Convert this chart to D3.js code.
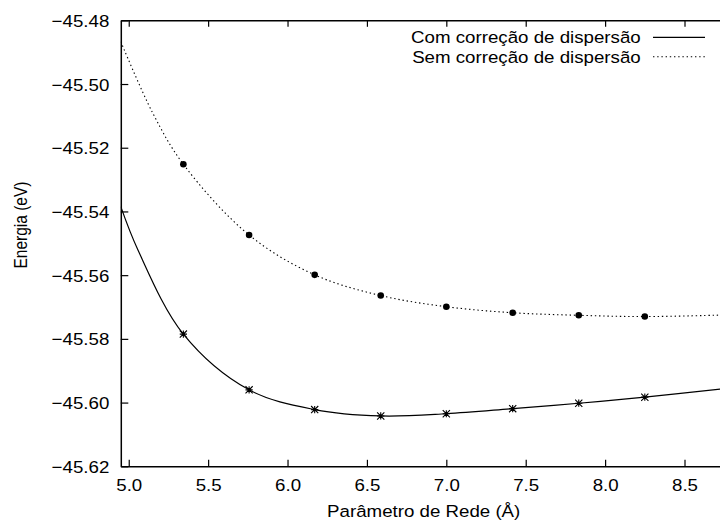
<!DOCTYPE html>
<html><head><meta charset="utf-8">
<script src="https://cdn.jsdelivr.net/npm/d3@7"></script>
<style>body{margin:0;background:#fff}svg{display:block}text{font-family:"Liberation Sans",Arial,Helvetica,sans-serif;fill:#000}</style>
</head><body><svg id="c" width="720" height="521"></svg>
<script>
// Data
const latticeParams = [5.344, 5.758, 6.171, 6.587, 7.0, 7.418, 7.834, 8.25];
const energyWith = [-45.5785, -45.5960, -45.6022, -45.6042, -45.6035, -45.6019, -45.6002, -45.5983];
const energyWithout = [-45.5252, -45.5474, -45.5599, -45.5664, -45.5699, -45.5718, -45.5726, -45.5730];
// fitted curves
const fitWithX = [4.95, 5.058, 5.344, 5.758, 6.171, 6.587, 7.0, 7.418, 7.834, 8.25, 8.75];
const fitWithY = [-45.5385, -45.5521, -45.5785, -45.5960, -45.6022, -45.6042, -45.6035, -45.6019, -45.6002, -45.5983, -45.5956];
const fitWithoutX = [4.95, 5.15, 5.344, 5.758, 6.171, 6.587, 7.0, 7.418, 7.834, 8.25, 8.75];
const fitWithoutY = [-45.4867, -45.5090, -45.5252, -45.5474, -45.5599, -45.5664, -45.5699, -45.5718, -45.5726, -45.5730, -45.5725];
const xTicks = [5.0, 5.5, 6.0, 6.5, 7.0, 7.5, 8.0, 8.5];
const yTicks = [-45.48, -45.50, -45.52, -45.54, -45.56, -45.58, -45.60, -45.62];
const legendLabels = ["Com correção de dispersão", "Sem correção de dispersão"];

const svg = d3.select("#c");
const L = 120.8, R = 724.2, T = 20.3, B = 466.3;
const x = d3.scaleLinear().domain([4.95, 8.75]).range([L, R]);
const y = d3.scaleLinear().domain([-45.62, -45.48]).range([B, T]);
const FS = 17, SX = 1.1;
const fmtY = v => d3.format(".2f")(v).replace("-", "\u2212");

svg.append("defs").append("clipPath").attr("id","clip").append("rect")
  .attr("x", L).attr("y", T).attr("width", R - L).attr("height", B - T);

// axes
const gx = svg.append("g").attr("transform", `translate(0,${B})`)
  .call(d3.axisBottom(x).tickValues(xTicks).tickSizeInner(-6.5).tickSizeOuter(0).tickFormat(d3.format(".1f")));
const gxt = svg.append("g").attr("transform", `translate(0,${T})`)
  .call(d3.axisTop(x).tickValues(xTicks).tickSizeInner(-6.5).tickSizeOuter(0).tickFormat(""));
const gy = svg.append("g").attr("transform", `translate(${L},0)`)
  .call(d3.axisLeft(y).tickValues(yTicks).tickSizeInner(-7.5).tickSizeOuter(0).tickFormat(fmtY));
[gx, gxt, gy].forEach(g => {
  g.select(".domain").attr("stroke", "#000").attr("stroke-width", 1.5);
  g.selectAll(".tick line").attr("stroke", "#000").attr("stroke-width", 1.2);
  g.selectAll("text").attr("font-size", FS).attr("font-family", null);
});
gx.selectAll(".tick text").attr("dy", null).attr("y", 25)
  .attr("transform", "scale(1.1,1)")
  .each(function(){ const t = d3.select(this.parentNode).attr("transform"); });
// apply horizontal stretch around each tick's anchor
gx.selectAll(".tick text").attr("transform", null).attr("x", 0)
  .attr("transform", `scale(${SX},1)`);
gy.selectAll(".tick text").attr("x", -11.5 / SX).attr("dy", "0.36em")
  .attr("transform", `scale(${SX},1)`);

// curves
const line = d3.line().x(d => x(d[0])).y(d => y(d[1])).curve(d3.curveCatmullRom.alpha(0.5));
const plot = svg.append("g").attr("clip-path", "url(#clip)");
plot.append("path").datum(d3.zip(fitWithoutX, fitWithoutY)).attr("d", line)
  .attr("fill", "none").attr("stroke", "#000").attr("stroke-width", 1.1).attr("stroke-dasharray", "1.4,2.8");
plot.append("path").datum(d3.zip(fitWithX, fitWithY)).attr("d", line)
  .attr("fill", "none").attr("stroke", "#000").attr("stroke-width", 1.2);

// markers
plot.selectAll("circle.m").data(d3.zip(latticeParams, energyWithout)).join("circle")
  .attr("cx", d => x(d[0])).attr("cy", d => y(d[1])).attr("r", 3.3).attr("fill", "#000");
const star = plot.selectAll("g.s").data(d3.zip(latticeParams, energyWith)).join("g")
  .attr("transform", d => `translate(${x(d[0])},${y(d[1])})`);
const s = 3.6;
star.append("path").attr("d", `M${-s},0H${s}M0,${-s}V${s}M${-s},${-s}L${s},${s}M${-s},${s}L${s},${-s}`)
  .attr("stroke", "#000").attr("stroke-width", 1.1).attr("fill", "none");

// legend
const legY = [37.3, 56.7];
legendLabels.forEach((lab, i) => {
  svg.append("text").attr("transform", `translate(640.7,${legY[i]}) scale(${SX},1)`)
    .attr("text-anchor", "end").attr("dy", "0.36em").attr("font-size", FS).text(lab);
  svg.append("line").attr("x1", 653).attr("x2", 705).attr("y1", legY[i]).attr("y2", legY[i])
    .attr("stroke", "#000").attr("stroke-width", i === 0 ? 1.2 : 1.1)
    .attr("stroke-dasharray", i === 0 ? null : "1.4,2.8");
});

// axis titles
svg.append("text").attr("transform", `translate(423.7,517) scale(${SX},1)`)
  .attr("text-anchor", "middle").attr("font-size", FS).text("Parâmetro de Rede (Å)");
svg.append("text").attr("transform", `translate(27,225) rotate(-90) scale(1,1.15)`)
  .attr("text-anchor", "middle").attr("font-size", 15.5).text("Energia (eV)");
</script></body></html>
